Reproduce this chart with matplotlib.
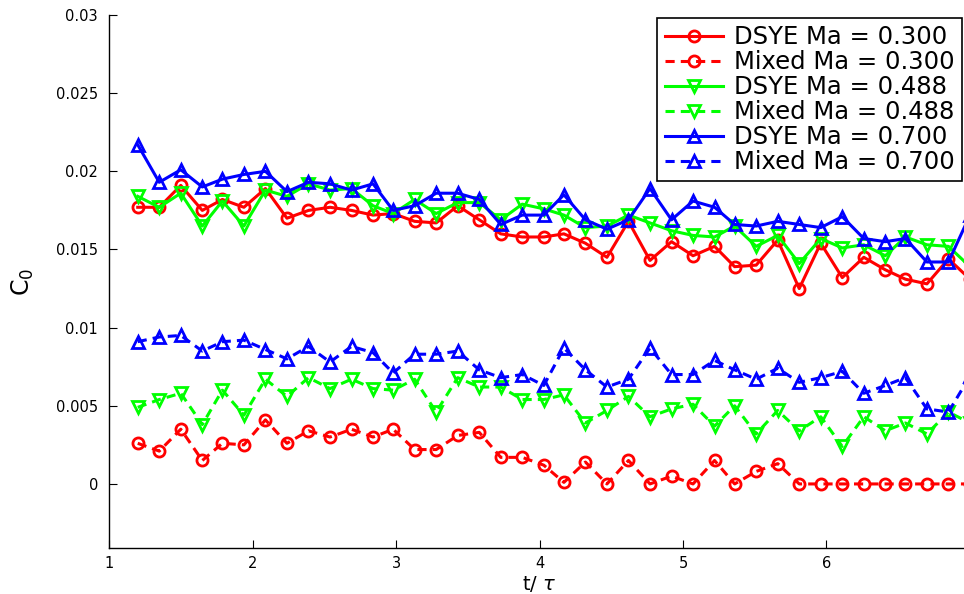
import matplotlib
matplotlib.use("Agg")
import matplotlib.pyplot as plt
from matplotlib.ticker import FixedLocator, FixedFormatter

plt.rcParams["font.family"] = ["DejaVu Sans"]
plt.rcParams["mathtext.fontset"] = "dejavusans"

# time axis t/tau
t = [1.20, 1.35, 1.50, 1.65, 1.79, 1.94, 2.09, 2.24, 2.39, 2.54,
     2.69, 2.84, 2.98, 3.13, 3.28, 3.43, 3.58, 3.73, 3.88, 4.03,
     4.17, 4.32, 4.47, 4.62, 4.77, 4.92, 5.07, 5.22, 5.36, 5.51,
     5.66, 5.81, 5.96, 6.11, 6.26, 6.41, 6.55, 6.70, 6.85, 7.00]

dsye_300 = [0.0177, 0.0177, 0.0191, 0.0175, 0.0182, 0.0177, 0.0189, 0.0170, 0.0175, 0.0177,
            0.0175, 0.0172, 0.0173, 0.0168, 0.0167, 0.0178, 0.0169, 0.0160, 0.0158, 0.0158,
            0.0160, 0.0154, 0.0145, 0.0168, 0.0143, 0.0155, 0.0146, 0.0152, 0.0139, 0.0140,
            0.0156, 0.0125, 0.0154, 0.0132, 0.0145, 0.0137, 0.0131, 0.0128, 0.0144, 0.0131]
mixed_300 = [0.0026, 0.0021, 0.0035, 0.0015, 0.0026, 0.0025, 0.0041, 0.0026, 0.0034, 0.0030,
             0.0035, 0.0030, 0.0035, 0.0022, 0.0022, 0.0031, 0.0033, 0.0017, 0.0017, 0.0012,
             0.0001, 0.0014, 0.0000, 0.0015, 0.0000, 0.0005, 0.0000, 0.0015, 0.0000, 0.0008,
             0.0013, 0.0000, 0.0000, 0.0000, 0.0000, 0.0000, 0.0000, 0.0000, 0.0000, 0.0000]
dsye_488 = [0.0184, 0.0177, 0.0186, 0.0165, 0.0181, 0.0165, 0.0188, 0.0184, 0.0192, 0.0188,
            0.0189, 0.0178, 0.0173, 0.0182, 0.0173, 0.0180, 0.0180, 0.0169, 0.0179, 0.0176,
            0.0172, 0.0164, 0.0165, 0.0172, 0.0167, 0.0162, 0.0159, 0.0158, 0.0165, 0.0152,
            0.0159, 0.0141, 0.0157, 0.0151, 0.0153, 0.0146, 0.0158, 0.0153, 0.0152, 0.0139]
mixed_488 = [0.0049, 0.0054, 0.0058, 0.0038, 0.0060, 0.0044, 0.0067, 0.0056, 0.0068, 0.0061,
             0.0067, 0.0061, 0.0060, 0.0067, 0.0046, 0.0068, 0.0062, 0.0062, 0.0054, 0.0054,
             0.0057, 0.0039, 0.0047, 0.0056, 0.0043, 0.0048, 0.0051, 0.0037, 0.0050, 0.0032,
             0.0047, 0.0034, 0.0043, 0.0024, 0.0043, 0.0034, 0.0039, 0.0032, 0.0046, 0.0039]
dsye_700 = [0.0217, 0.0193, 0.0201, 0.0190, 0.0195, 0.0198, 0.0200, 0.0187, 0.0193, 0.0192,
            0.0188, 0.0192, 0.0175, 0.0178, 0.0186, 0.0186, 0.0182, 0.0166, 0.0172, 0.0172,
            0.0185, 0.0169, 0.0163, 0.0169, 0.0189, 0.0169, 0.0181, 0.0177, 0.0166, 0.0165,
            0.0168, 0.0166, 0.0164, 0.0171, 0.0157, 0.0155, 0.0157, 0.0142, 0.0142, 0.0172]
mixed_700 = [0.0091, 0.0094, 0.0095, 0.0085, 0.0091, 0.0092, 0.0086, 0.0080, 0.0088, 0.0078,
             0.0088, 0.0084, 0.0071, 0.0083, 0.0083, 0.0085, 0.0073, 0.0068, 0.0070, 0.0063,
             0.0087, 0.0073, 0.0062, 0.0067, 0.0087, 0.0070, 0.0070, 0.0079, 0.0073, 0.0067,
             0.0074, 0.0065, 0.0068, 0.0072, 0.0058, 0.0063, 0.0068, 0.0048, 0.0046, 0.0069]

series = [
    ("DSYE Ma = 0.300", dsye_300, "#ff0000", "o", "-"),
    ("Mixed Ma = 0.300", mixed_300, "#ff0000", "o", "--"),
    ("DSYE Ma = 0.488", dsye_488, "#00ff00", "v", "-"),
    ("Mixed Ma = 0.488", mixed_488, "#00ff00", "v", "--"),
    ("DSYE Ma = 0.700", dsye_700, "#0000ff", "^", "-"),
    ("Mixed Ma = 0.700", mixed_700, "#0000ff", "^", "--"),
]

yticks = [0, 0.005, 0.01, 0.015, 0.02, 0.025, 0.03]
ytick_labels = ["0", "0.005", "0.01", "0.015", "0.02", "0.025", "0.03"]
xticks = [1, 2, 3, 4, 5, 6, 7]

fig = plt.figure(figsize=(9.64, 5.94), dpi=100)
ax = fig.add_axes([0.1131, 0.0774, 0.8931, 0.8973])

for label, y, col, mk, ls in series:
    kw = dict(dashes=(3, 2)) if ls == "--" else {}
    ax.plot(t, y, linestyle=ls, color=col, lw=2.2, marker=mk, ms=8,
            mfc="none", mec=col, mew=2, label=label, **kw)

ax.set_xlim(1, 7)
ax.set_ylim(-0.0041, 0.03)
ax.xaxis.set_major_locator(FixedLocator(xticks))
ax.yaxis.set_major_locator(FixedLocator(yticks))
ax.yaxis.set_major_formatter(FixedFormatter(ytick_labels))
ax.tick_params(direction="in", length=6, width=0.8, labelsize=10.5, pad=6)
ax.tick_params(axis="y", pad=8)
for s in ["top", "right"]:
    ax.spines[s].set_visible(False)
for s in ["left", "bottom"]:
    ax.spines[s].set_linewidth(1.0)

ax.set_xlabel(r"t/ $\tau$", fontsize=14, labelpad=2)
ax.set_ylabel(r"C$_0$", fontsize=17, labelpad=14)

leg = ax.legend(loc="upper right", bbox_to_anchor=(0.9907, 0.9944), borderaxespad=0,
                fontsize=17.5, handlelength=2.4, labelspacing=0.04, borderpad=0.3,
                handletextpad=0.45, fancybox=False, framealpha=1, edgecolor="black")
leg.get_frame().set_linewidth(1.2)

fig.savefig("out.png", dpi=100)
